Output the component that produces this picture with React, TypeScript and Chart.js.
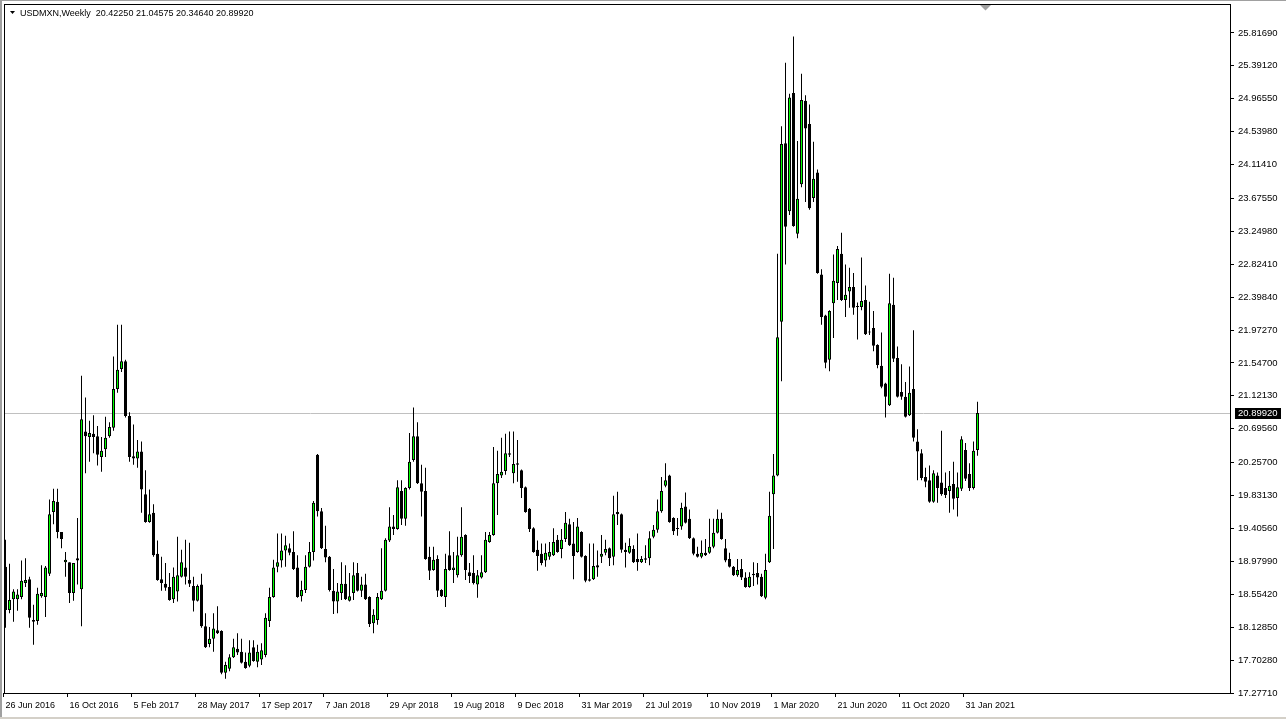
import React, { useEffect, useRef } from "react";
import { Chart, registerables } from "chart.js";

Chart.register(...registerables);

const symbolName = "USDMXN,Weekly";

const opens = [
  18.91, 18.35, 18.49, 18.49, 18.52, 18.70, 18.75, 18.22, 18.21, 18.53,
  18.52, 18.82, 19.62, 19.75, 19.36, 18.97, 18.97, 18.57, 19.02, 18.62,
  20.66, 20.59, 20.63, 20.60, 20.33, 20.43, 20.60, 20.71, 21.21, 21.47,
  21.57, 20.86, 20.34, 20.31, 20.40, 19.85, 19.49, 19.61, 19.08, 18.75,
  18.69, 18.65, 18.49, 18.59, 18.78, 18.90, 18.74, 18.66, 18.47, 18.68,
  18.14, 17.91, 17.98, 18.09, 18.08, 17.54, 17.59, 17.74, 17.85, 17.81,
  17.68, 17.63, 17.87, 17.68, 17.71, 17.77, 18.21, 18.52, 18.91, 18.99,
  19.12, 19.15, 19.10, 18.90, 18.53, 18.61, 18.91, 19.10, 20.36, 19.63,
  19.14, 19.04, 18.60, 18.46, 18.57, 18.69, 18.47, 18.57, 18.83, 18.60,
  18.68, 18.52, 18.18, 18.22, 18.49, 18.60, 19.25, 19.43, 19.40, 19.89,
  19.53, 19.93, 20.29, 20.60, 19.99, 19.89, 19.04, 18.87, 19.01, 18.61,
  18.52, 19.06, 18.87, 18.80, 19.06, 19.32, 18.84, 18.83, 18.68, 18.77,
  18.84, 19.23, 19.32, 19.99, 20.09, 20.15, 20.38, 20.12, 20.25, 20.16,
  19.94, 19.66, 19.41, 19.13, 19.08, 18.99, 19.04, 19.06, 19.26, 19.14,
  19.27, 19.46, 19.21, 19.10, 19.36, 19.05, 18.75, 18.75, 18.93, 19.04,
  19.09, 19.15, 19.04, 19.62, 19.59, 19.13, 19.09, 19.14, 19.01, 18.97,
  19.00, 19.02, 19.30, 19.39, 19.63, 19.96, 20.09, 19.54, 19.41, 19.43,
  19.69, 19.53, 19.28, 19.08, 19.04, 19.09, 19.09, 19.17, 19.35, 19.53,
  19.15, 19.01, 18.91, 18.80, 18.88, 18.77, 18.65, 18.82, 18.83, 18.78,
  18.51, 18.97, 19.85, 20.09, 22.08, 24.39, 23.51, 25.04, 23.22, 23.86,
  24.94, 24.64, 23.68, 24.01, 22.69, 22.16, 21.59, 22.32, 22.58, 22.96,
  22.36, 22.47, 22.53, 22.28, 22.27, 22.36, 21.95, 22.00, 21.78, 21.51,
  21.28, 21.00, 22.30, 21.61, 21.17, 21.11, 20.87, 21.21, 20.53, 20.38,
  20.07, 20.03, 19.75, 20.09, 20.00, 19.93, 19.89, 19.98, 19.80, 19.92,
  20.42, 20.11, 19.93, 20.4225,
];

const highs = [
  19.26, 18.95, 18.62, 18.62, 18.99, 19.02, 18.78, 18.42, 18.64, 18.93,
  18.92, 19.78, 19.92, 19.92, 19.36, 19.10, 18.97, 18.96, 19.54, 21.38,
  21.10, 20.80, 20.87, 20.73, 20.59, 20.85, 20.78, 21.63, 22.04, 22.04,
  21.59, 20.91, 20.75, 20.55, 20.53, 20.16, 19.91, 19.72, 19.25, 19.04,
  18.96, 18.83, 18.90, 19.30, 19.13, 19.26, 19.22, 18.78, 18.68, 18.82,
  18.31, 18.13, 18.31, 18.40, 18.09, 17.68, 17.78, 17.98, 18.05, 17.98,
  17.80, 17.96, 17.96, 17.90, 17.92, 18.31, 18.64, 19.00, 19.34, 19.34,
  19.31, 19.21, 19.37, 19.06, 18.73, 19.06, 19.23, 19.76, 20.37, 19.67,
  19.44, 19.05, 18.88, 18.70, 18.97, 18.93, 18.83, 18.97, 18.96, 18.78,
  18.82, 18.53, 18.36, 18.57, 19.15, 19.28, 19.68, 19.58, 20.03, 20.03,
  19.94, 20.64, 20.97, 20.78, 20.23, 20.19, 19.17, 19.17, 19.06, 18.62,
  19.08, 19.37, 19.10, 19.30, 19.68, 19.33, 18.96, 19.06, 18.87, 19.06,
  19.36, 19.36, 20.46, 20.41, 20.58, 20.63, 20.66, 20.66, 20.55, 20.17,
  19.95, 19.67, 19.42, 19.25, 19.21, 19.21, 19.23, 19.41, 19.32, 19.40,
  19.62, 19.53, 19.49, 19.54, 19.37, 19.06, 19.21, 19.21, 19.12, 19.32,
  19.26, 19.16, 19.83, 19.88, 19.60, 19.22, 19.28, 19.19, 19.34, 19.05,
  19.19, 19.37, 19.45, 19.78, 20.07, 20.25, 20.10, 19.55, 19.54, 19.74,
  19.87, 19.65, 19.29, 19.17, 19.25, 19.27, 19.53, 19.53, 19.65, 19.61,
  19.27, 19.09, 18.92, 19.01, 19.01, 18.84, 18.84, 18.97, 18.96, 18.82,
  19.08, 19.88, 20.37, 22.96, 24.61, 25.43, 25.03, 25.77, 24.42, 25.29,
  25.01, 24.89, 24.41, 24.05, 22.76, 22.17, 22.23, 22.95, 23.06, 23.23,
  22.82, 22.78, 22.71, 22.33, 22.91, 22.55, 22.34, 22.22, 21.79, 21.94,
  21.29, 22.70, 22.65, 21.76, 21.53, 21.30, 21.50, 21.97, 20.69, 20.43,
  20.19, 20.22, 20.16, 20.13, 20.67, 20.13, 20.15, 20.27, 20.13, 20.60,
  20.51, 20.25, 20.53, 21.04575,
];

const lows = [
  18.12, 18.31, 18.20, 18.34, 18.49, 18.65, 18.12, 17.90, 18.16, 18.51,
  18.26, 18.79, 19.46, 19.28, 19.15, 18.78, 18.44, 18.47, 18.68, 18.14,
  20.12, 20.27, 20.38, 20.22, 20.14, 20.33, 20.58, 20.67, 21.16, 21.43,
  20.84, 20.27, 20.23, 20.19, 19.61, 19.48, 19.48, 19.04, 18.73, 18.60,
  18.60, 18.47, 18.44, 18.46, 18.77, 18.68, 18.65, 18.33, 18.46, 18.12,
  17.86, 17.87, 17.81, 18.04, 17.52, 17.46, 17.56, 17.73, 17.77, 17.66,
  17.59, 17.61, 17.68, 17.61, 17.64, 17.74, 18.13, 18.51, 18.84, 18.90,
  18.91, 19.06, 18.87, 18.51, 18.46, 18.57, 18.90, 18.99, 19.56, 19.14,
  18.97, 18.59, 18.30, 18.31, 18.48, 18.48, 18.46, 18.48, 18.59, 18.52,
  18.48, 18.13, 18.05, 18.16, 18.48, 18.59, 19.23, 19.32, 19.39, 19.45,
  19.44, 19.91, 20.27, 19.98, 19.56, 19.00, 18.74, 18.86, 18.52, 18.52,
  18.39, 18.86, 18.70, 18.77, 19.04, 18.74, 18.70, 18.68, 18.51, 18.76,
  18.83, 19.22, 19.31, 19.58, 20.06, 20.10, 20.33, 19.99, 20.01, 19.80,
  19.61, 19.36, 19.09, 18.86, 18.93, 18.91, 19.00, 19.05, 19.09, 19.02,
  19.23, 19.18, 18.75, 19.09, 19.03, 18.71, 18.72, 18.74, 18.78, 18.96,
  19.06, 18.92, 18.93, 19.45, 19.09, 18.90, 19.08, 18.96, 18.86, 18.96,
  18.96, 18.93, 19.28, 19.35, 19.61, 19.94, 19.48, 19.32, 19.31, 19.39,
  19.47, 19.27, 19.06, 19.03, 19.02, 19.05, 19.08, 19.15, 19.34, 19.26,
  18.97, 18.90, 18.79, 18.78, 18.74, 18.64, 18.64, 18.66, 18.68, 18.52,
  18.49, 18.96, 19.14, 20.08, 21.31, 22.82, 23.46, 23.31, 23.16, 23.82,
  23.63, 23.53, 23.63, 22.70, 22.04, 21.48, 21.44, 21.87, 22.36, 22.35,
  22.14, 22.26, 22.17, 21.85, 22.23, 21.91, 21.91, 21.70, 21.48, 21.22,
  20.84, 20.99, 21.56, 21.10, 21.07, 20.84, 20.86, 20.53, 20.03, 20.03,
  19.94, 19.74, 19.74, 19.74, 19.83, 19.80, 19.61, 19.65, 19.56, 19.89,
  20.02, 19.89, 19.91, 20.3464,
];

const closes = [
  18.35, 18.48, 18.59, 18.55, 18.73, 18.74, 18.25, 18.20, 18.56, 18.57,
  18.90, 19.59, 19.76, 19.36, 19.27, 19.00, 18.57, 18.96, 18.99, 20.82,
  20.60, 20.64, 20.59, 20.36, 20.41, 20.58, 20.72, 21.21, 21.46, 21.57,
  20.86, 20.33, 20.31, 20.40, 19.91, 19.49, 19.59, 19.06, 18.74, 18.70,
  18.64, 18.48, 18.78, 18.80, 18.97, 18.78, 18.69, 18.47, 18.66, 18.14,
  17.87, 17.98, 18.11, 18.05, 17.54, 17.64, 17.74, 17.87, 17.80, 17.67,
  17.60, 17.80, 17.69, 17.81, 17.83, 18.25, 18.52, 18.90, 18.97, 19.12,
  19.19, 19.09, 18.88, 18.52, 18.61, 18.91, 19.10, 19.74, 19.63, 19.15,
  19.03, 18.61, 18.46, 18.59, 18.69, 18.49, 18.53, 18.80, 18.60, 18.68,
  18.49, 18.17, 18.29, 18.52, 18.60, 19.26, 19.43, 19.40, 19.94, 19.53,
  19.93, 20.27, 20.60, 19.99, 19.88, 19.01, 18.86, 19.00, 18.60, 18.53,
  18.88, 18.87, 18.90, 19.06, 19.30, 18.87, 18.79, 18.70, 18.80, 18.84,
  19.26, 19.32, 19.99, 20.11, 20.14, 20.38, 20.36, 20.24, 20.23, 19.93,
  19.62, 19.40, 19.10, 19.05, 18.96, 19.09, 19.10, 19.23, 19.10, 19.26,
  19.48, 19.19, 19.05, 19.43, 19.04, 18.73, 18.73, 18.92, 18.90, 19.08,
  19.14, 19.02, 19.59, 19.59, 19.13, 19.10, 19.18, 18.97, 18.97, 19.01,
  19.02, 19.28, 19.39, 19.63, 19.89, 20.03, 19.49, 19.37, 19.40, 19.67,
  19.48, 19.28, 19.08, 19.04, 19.09, 19.06, 19.17, 19.35, 19.53, 19.27,
  18.99, 18.91, 18.80, 18.87, 18.77, 18.65, 18.78, 18.80, 18.77, 18.53,
  18.87, 19.57, 20.09, 21.88, 24.38, 23.31, 24.98, 23.32, 23.67, 24.95,
  24.58, 23.55, 23.93, 22.71, 22.14, 21.55, 22.22, 22.61, 23.02, 22.36,
  22.43, 22.53, 22.26, 22.27, 22.35, 21.92, 21.94, 21.77, 21.52, 21.24,
  21.11, 22.32, 21.60, 21.11, 21.11, 20.85, 21.16, 20.58, 20.40, 20.06,
  20.01, 19.75, 20.12, 19.93, 19.85, 19.84, 19.96, 19.79, 19.94, 20.56,
  20.05, 19.93, 20.41, 20.8992,
];

const dateTickIndex = [0, 16, 32, 48, 64, 80, 96, 112, 128, 144, 160, 176, 192, 208, 224, 240];
const dateTickLabels = [
  "26 Jun 2016", "16 Oct 2016", "5 Feb 2017", "28 May 2017", "17 Sep 2017",
  "7 Jan 2018", "29 Apr 2018", "19 Aug 2018", "9 Dec 2018", "31 Mar 2019",
  "21 Jul 2019", "10 Nov 2019", "1 Mar 2020", "21 Jun 2020", "11 Oct 2020",
  "31 Jan 2021",
];

const priceTicks = [
  25.8169, 25.3912, 24.9655, 24.5398, 24.1141, 23.6755, 23.2498, 22.8241,
  22.3984, 21.9727, 21.547, 21.1213, 20.6956, 20.257, 19.8313, 19.4056,
  18.9799, 18.5542, 18.1285, 17.7028, 17.2771,
];

const BULL = "#00FF00";
const BEAR = "#000000";
const FONT = "Liberation Sans";

const mt4Plugin = {
  id: "mt4look",
  beforeDatasetsDraw(chart: any) {
    const { ctx, chartArea: a, scales } = chart;
    const last = closes[closes.length - 1];
    const y = Math.floor(scales.y.getPixelForValue(last)) + 0.5;
    ctx.save();
    ctx.strokeStyle = "#C0C0C0";
    ctx.lineWidth = 1;
    ctx.beginPath();
    ctx.moveTo(a.left, y);
    ctx.lineTo(a.right, y);
    ctx.stroke();
    ctx.restore();
  },
  afterDraw(chart: any) {
    const { ctx, chartArea: a, scales, width, height } = chart;
    ctx.save();
    ctx.fillStyle = "#A0A0A0";
    ctx.fillRect(0, 0, width, 1);
    ctx.fillRect(0, 0, 2, height);
    ctx.fillStyle = "#D4D0C8";
    ctx.fillRect(0, height - 2, width, 2);
    ctx.strokeStyle = "#000";
    ctx.lineWidth = 1;
    ctx.strokeRect(a.left + 0.5, a.top + 0.5, a.right - a.left, a.bottom - a.top);
    ctx.fillStyle = "#A0A0A0";
    ctx.beginPath();
    ctx.moveTo(980, a.top + 1);
    ctx.lineTo(991, a.top + 1);
    ctx.lineTo(985.5, a.top + 6.5);
    ctx.closePath();
    ctx.fill();
    ctx.fillStyle = "#000";
    ctx.beginPath();
    ctx.moveTo(10, 11);
    ctx.lineTo(15, 11);
    ctx.lineTo(12.5, 14);
    ctx.closePath();
    ctx.fill();
    const n = closes.length - 1;
    const title =
      symbolName + "  " + opens[n].toFixed(5) + " " + highs[n].toFixed(5) + " " +
      lows[n].toFixed(5) + " " + closes[n].toFixed(5);
    ctx.font = `9px "${FONT}"`;
    ctx.textBaseline = "alphabetic";
    ctx.textAlign = "left";
    ctx.fillText(title, 20, 16);
    const last = closes[n];
    const yp = Math.floor(scales.y.getPixelForValue(last));
    ctx.fillStyle = "#000";
    ctx.fillRect(a.right + 5, yp - 5, 46, 11);
    ctx.fillStyle = "#fff";
    ctx.font = `9.5px "${FONT}"`;
    ctx.textBaseline = "middle";
    ctx.fillText(last.toFixed(5), a.right + 8, yp + 0.5);
    ctx.restore();
  },
};

export default function App() {
  const ref = useRef<HTMLCanvasElement>(null);
  useEffect(() => {
    document.body.style.margin = "0";
    const wickData = lows.map((l, i) => ({ x: i, y: [l, highs[i]] }));
    const bodyData = opens.map((o, i) => ({ x: i, y: [o, closes[i]] }));
    const bodyColors = opens.map((o, i) => (closes[i] > o ? BULL : BEAR));
    const chart = new Chart(ref.current as HTMLCanvasElement, {
      type: "bar",
      data: {
        datasets: [
          {
            label: "wick",
            data: wickData as any,
            backgroundColor: "#000",
            borderWidth: 0,
            grouped: false,
            categoryPercentage: 1,
            barPercentage: 1,
            maxBarThickness: 1,
            inflateAmount: 0,
            order: 2,
          } as any,
          {
            label: "body",
            data: bodyData as any,
            backgroundColor: bodyColors,
            borderColor: "#000",
            borderWidth: 1,
            borderSkipped: false,
            grouped: false,
            categoryPercentage: 1,
            barPercentage: 1,
            maxBarThickness: 3,
            inflateAmount: 0,
            minBarLength: 1,
            order: 1,
          } as any,
        ],
      },
      options: {
        responsive: false,
        animation: false,
        events: [],
        layout: { padding: { left: 4, top: 4, right: 0, bottom: 0 } },
        plugins: {
          legend: { display: false },
          tooltip: { enabled: false },
        },
        scales: {
          x: {
            type: "linear",
            offset: false,
            bounds: "data",
            min: -0.375,
            max: 306.125,
            afterBuildTicks: (s: any) => {
              s.ticks = dateTickIndex.map((v) => ({ value: v - 0.5 }));
            },
            afterFit: (s: any) => {
              s.height = 26;
              s.paddingLeft = 0;
              s.paddingRight = 0;
            },
            grid: { offset: false, drawOnChartArea: false, drawTicks: true, tickLength: 4, color: "#000" },
            border: { display: false },
            ticks: {
              autoSkip: false,
              maxRotation: 0,
              minRotation: 0,
              align: "start",
              labelOffset: 2,
              padding: 3,
              color: "#000",
              font: { family: FONT, size: 9 },
              callback: (_v: any, idx: number) => dateTickLabels[idx],
            },
          },
          y: {
            type: "linear",
            position: "right",
            min: 17.2771,
            max: 26.191,
            afterBuildTicks: (s: any) => {
              s.ticks = priceTicks.map((v) => ({ value: v }));
            },
            afterFit: (s: any) => {
              s.width = 56;
              s.paddingTop = 0;
              s.paddingBottom = 0;
            },
            grid: { drawOnChartArea: false, drawTicks: true, tickLength: 4, color: "#000" },
            border: { display: false },
            ticks: {
              autoSkip: false,
              padding: 4,
              color: "#000",
              font: { family: FONT, size: 9.5 },
              callback: (v: any) => Number(v).toFixed(5),
            },
          },
        },
      } as any,
      plugins: [mt4Plugin],
    });
    return () => chart.destroy();
  }, []);
  return (
    <div style={{ position: "relative", width: 1286, height: 719, background: "#fff" }}>
      <canvas ref={ref} width={1286} height={719} style={{ display: "block" }} />
    </div>
  );
}
